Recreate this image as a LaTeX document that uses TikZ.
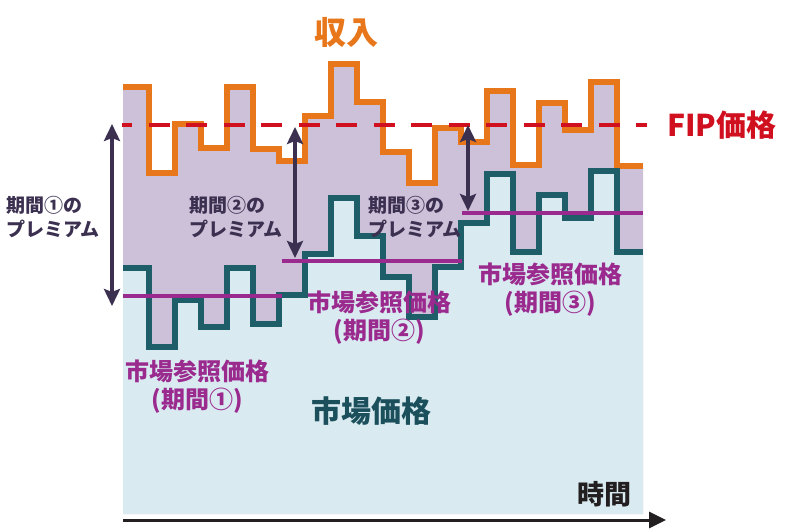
\documentclass[tikz,border=0pt]{standalone}
\usepackage{fontspec}
\setmainfont{Noto Sans CJK JP}
\usetikzlibrary{arrows.meta}
\definecolor{lav}{HTML}{CDC1DA}
\definecolor{lblue}{HTML}{D9EBF1}
\definecolor{orng}{HTML}{E8761A}
\definecolor{tealln}{HTML}{1E5E69}
\definecolor{mag}{HTML}{9B2A8E}
\definecolor{fipred}{HTML}{D0101E}
\definecolor{arr}{HTML}{3B3050}
\definecolor{tealtxt}{HTML}{1B4F5C}
\definecolor{axis}{HTML}{231F20}
\begin{document}
\begin{tikzpicture}[x=1pt,y=-1pt,
  incomeline/.style={draw=orng,line width=5.5pt},
  marketline/.style={draw=tealln,line width=5.5pt},
  refline/.style={draw=mag,line width=4.5pt},
  fipline/.style={draw=fipred,line width=4.5pt,dash pattern=on 21pt off 16.5pt,dash phase=11pt},
  premarrow/.style={draw=arr,line width=4.5pt,{Stealth[length=17pt,width=16pt,inset=3pt]}-{Stealth[length=17pt,width=16pt,inset=3pt]}},
  prem/.style={font=\fontsize{19}{24}\selectfont\bfseries,text=arr,align=left,anchor=west,inner sep=0pt},
  reflab/.style={font=\fontsize{24}{28}\selectfont\bfseries,text=mag,align=center,inner sep=0pt},
]
\useasboundingbox (0,0) rectangle (800,530);
% lavender area under income
\fill[lav] (123,87) -- (149,87) -- (149,173) -- (175,173) -- (175,124) -- (201,124) -- (201,148) -- (227,148) -- (227,87) -- (253,87) -- (253,149) -- (279,149) -- (279,161) -- (305,161) -- (305,116) -- (331,116) -- (331,64) -- (357,64) -- (357,102) -- (383,102) -- (383,152) -- (409,152) -- (409,183) -- (435,183) -- (435,128) -- (461,128) -- (461,142) -- (487,142) -- (487,91) -- (513,91) -- (513,165) -- (539,165) -- (539,103) -- (565,103) -- (565,130) -- (591,130) -- (591,82) -- (617,82) -- (617,166) -- (643,166) -- (643,514) -- (123,514) -- cycle;
% light blue area under market price
\fill[lblue] (123,268) -- (149,268) -- (149,347) -- (175,347) -- (175,300) -- (201,300) -- (201,327) -- (227,327) -- (227,268) -- (253,268) -- (253,324) -- (279,324) -- (279,295) -- (305,295) -- (305,254) -- (331,254) -- (331,198) -- (357,198) -- (357,236) -- (383,236) -- (383,277) -- (409,277) -- (409,317) -- (435,317) -- (435,267) -- (461,267) -- (461,223) -- (487,223) -- (487,174) -- (513,174) -- (513,252) -- (539,252) -- (539,195) -- (565,195) -- (565,218) -- (591,218) -- (591,171) -- (617,171) -- (617,252) -- (643,252) -- (643,514) -- (123,514) -- cycle;
% income line
\path[incomeline] (123,87) -- (149,87) -- (149,173) -- (175,173) -- (175,124) -- (201,124) -- (201,148) -- (227,148) -- (227,87) -- (253,87) -- (253,149) -- (279,149) -- (279,161) -- (305,161) -- (305,116) -- (331,116) -- (331,64) -- (357,64) -- (357,102) -- (383,102) -- (383,152) -- (409,152) -- (409,183) -- (435,183) -- (435,128) -- (461,128) -- (461,142) -- (487,142) -- (487,91) -- (513,91) -- (513,165) -- (539,165) -- (539,103) -- (565,103) -- (565,130) -- (591,130) -- (591,82) -- (617,82) -- (617,166) -- (643,166);
% market price line
\path[marketline] (123,268) -- (149,268) -- (149,347) -- (175,347) -- (175,300) -- (201,300) -- (201,327) -- (227,327) -- (227,268) -- (253,268) -- (253,324) -- (279,324) -- (279,295) -- (305,295) -- (305,254) -- (331,254) -- (331,198) -- (357,198) -- (357,236) -- (383,236) -- (383,277) -- (409,277) -- (409,317) -- (435,317) -- (435,267) -- (461,267) -- (461,223) -- (487,223) -- (487,174) -- (513,174) -- (513,252) -- (539,252) -- (539,195) -- (565,195) -- (565,218) -- (591,218) -- (591,171) -- (617,171) -- (617,252) -- (643,252);
% reference price lines
\coordinate (r1a) at (123,296); \coordinate (r1b) at (282,296);
\coordinate (r2a) at (282,261); \coordinate (r2b) at (462,261);
\coordinate (r3a) at (462,213); \coordinate (r3b) at (643,213);
\path[refline] (r1a) -- (r1b);
\path[refline] (r2a) -- (r2b);
\path[refline] (r3a) -- (r3b);
% FIP line
\coordinate (fipa) at (122,125); \coordinate (fipb) at (647,125);
\path[fipline] (fipa) -- (fipb);
% premium arrows
\coordinate (p1t) at (112,124); \coordinate (p1b) at (112,306);
\coordinate (p2t) at (295,127); \coordinate (p2b) at (295,258);
\coordinate (p3t) at (468,125); \coordinate (p3b) at (468,211);
\path[premarrow] (p1t) -- (p1b);
\path[premarrow] (p2t) -- (p2b);
\path[premarrow] (p3t) -- (p3b);
% time axis
\coordinate (ax0) at (123,520); \coordinate (ax1) at (666,520);
\draw[axis,line width=3pt,-{Triangle[length=17pt,width=16pt]}] (ax0) -- (ax1);
% labels
\node[font=\fontsize{32}{32}\selectfont\bfseries,text=orng,inner sep=0pt] (income) at (346,32) {収入};
\node[font=\fontsize{30}{30}\selectfont\bfseries,text=fipred,anchor=west,inner sep=0pt] (fip) at (667,125) {FIP価格};
\node[prem] (prem1) at (6,217) {期間①の\\プレミアム};
\node[prem] (prem2) at (189,217) {期間②の\\プレミアム};
\node[prem] (prem3) at (368,217) {期間③の\\プレミアム};
\node[reflab] (ref1) at (197,387) {市場参照価格\\(期間①)};
\node[reflab] (ref2) at (379,318) {市場参照価格\\(期間②)};
\node[reflab] (ref3) at (550,290) {市場参照価格\\(期間③)};
\node[font=\fontsize{30}{30}\selectfont\bfseries,text=tealtxt,inner sep=0pt] (mkt) at (371,411) {市場価格};
\node[font=\fontsize{27}{27}\selectfont\bfseries,text=axis,inner sep=0pt] (time) at (604,494) {時間};
\end{tikzpicture}
\end{document}
